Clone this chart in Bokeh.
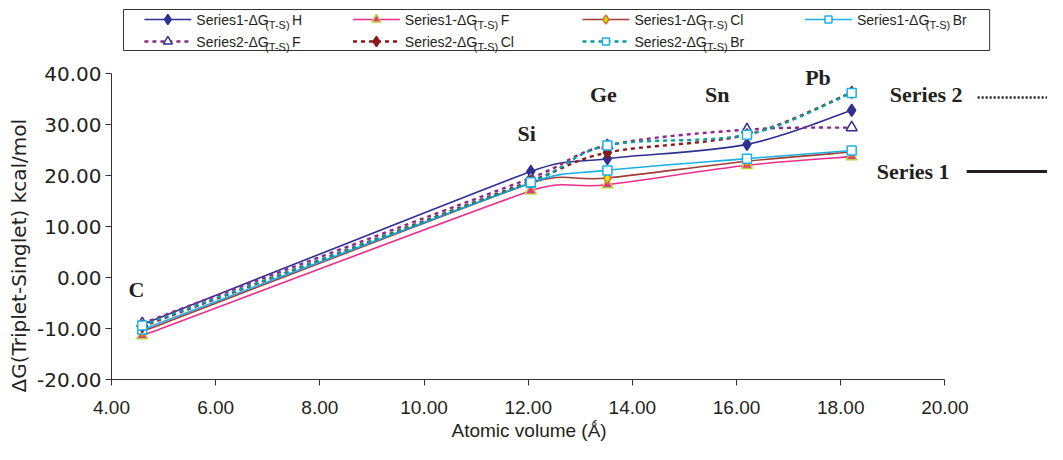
from bokeh.plotting import figure
from bokeh.models import NumeralTickFormatter, FixedTicker, Range1d, Title
from bokeh.core.properties import value
from bokeh.embed import file_html
from bokeh.resources import INLINE
import math

# ---------------- data ----------------
elements = ["C", "Si", "Ge", "Sn", "Pb"]
atomic_volume = [4.59, 12.05, 13.52, 16.20, 18.21]

s1_H = [-9.2, 20.8, 23.3, 26.1, 32.8]
s1_F = [-11.4, 17.0, 18.2, 22.0, 23.7]
s1_Cl = [-10.6, 18.5, 19.5, 22.8, 24.6]
s1_Br = [-10.2, 18.6, 21.0, 23.3, 24.9]
s2_F = [-9.0, 19.5, 25.9, 29.0, 29.4]
s2_Cl = [-9.6, 18.9, 24.5, 28.0, 36.3]
s2_Br = [-9.4, 18.7, 25.9, 28.0, 36.2]

x_ticks = [4, 6, 8, 10, 12, 14, 16, 18, 20]
y_ticks = [-20, -10, 0, 10, 20, 30, 40]

# ---------------- layout helpers (picture pixel -> data) ----------------
XS = 52.2   # px per x unit
YS = 5.1    # px per y unit
OFF = 1     # canvas origin in the picture
def dx(px):
    return 4 + (px - 110) / XS
def dy(py):
    return 40 - (py - 74) / YS

W, H = 1047, 444
LEFT = 110 - OFF
BOTTOM_PAGE = 380
p = figure(width=W, height=H, output_backend="svg", toolbar_location=None,
           x_range=Range1d(4, dx(W + OFF)), y_range=Range1d(-20, dy(OFF)),
           min_border_left=LEFT, min_border_right=0, min_border_top=0,
           min_border_bottom=H - (BOTTOM_PAGE - OFF))
p.outline_line_color = None
p.grid.visible = False
p.background_fill_color = "white"

FONT = "Liberation Sans"
YFONT = "DejaVu Sans"
SERIF = "Liberation Serif"
TXT = "#231f20"

for ax in (p.xaxis[0], p.yaxis[0]):
    ax.major_label_text_color = TXT
    ax.axis_line_color = "#333333"
    ax.major_tick_line_color = "#333333"
    ax.minor_tick_line_color = None
    ax.major_tick_in = 0
    ax.major_tick_out = 6
    ax.formatter = NumeralTickFormatter(format="0.00")

p.xaxis.major_label_text_font = FONT
p.xaxis.major_label_text_font_size = "19px"
p.yaxis.major_label_text_font = YFONT
p.yaxis.major_label_text_font_size = "20px"
p.xaxis.bounds = (4, 20)
p.yaxis.bounds = (-20, 40)
p.xaxis.ticker = FixedTicker(ticks=x_ticks)
p.yaxis.ticker = FixedTicker(ticks=y_ticks)
p.xaxis.major_label_standoff = 15
p.yaxis.major_label_standoff = 4

# ---------------- series ----------------
series = [
    dict(name="Series1", elem="H", y=s1_H, color="#2e3192", dash="solid", marker="diamond",
         fill="#2e3192", mline="#2e3192", size=12),
    dict(name="Series1", elem="F", y=s1_F, color="#ec2d8c", dash="solid", marker="triangle",
         fill="#e8318a", mline="#b8d23a", size=11),
    dict(name="Series1", elem="Cl", y=s1_Cl, color="#a33b36", dash="solid", marker="diamond",
         fill="#f5e400", mline="#d2702a", size=11),
    dict(name="Series1", elem="Br", y=s1_Br, color="#1ab0e8", dash="solid", marker="square",
         fill="white", mline="#1ab0e8", size=9),
    dict(name="Series2", elem="F", y=s2_F, color="#8b2a8e", dash="4 4", marker="triangle",
         fill="white", mline="#2e3192", size=11),
    dict(name="Series2", elem="Cl", y=s2_Cl, color="#8b1a1a", dash="4 4", marker="diamond",
         fill="#8b1a1a", mline="#8b1a1a", size=12),
    dict(name="Series2", elem="Br", y=s2_Br, color="#0a9da0", dash="4 4", marker="square",
         fill="white", mline="#1ab0e8", size=9),
]

def smooth(xs, ys):
    """Excel-style smoothed line: cubic Bezier per segment, tangent (P[i+1]-P[i-1])/6,
    arm capped at half of the shorter neighbouring segment (measured on screen)."""
    n = len(xs)
    X = [v * XS for v in xs]
    Y = [v * YS for v in ys]
    def arm(i):
        xm, ym = (X[i - 1], Y[i - 1]) if i > 0 else (X[i], Y[i])
        xp, yp = (X[i + 1], Y[i + 1]) if i < n - 1 else (X[i], Y[i])
        tx, ty = xp - xm, yp - ym
        tl = math.hypot(tx, ty)
        if tl == 0:
            return 0.0, 0.0
        d_prev = math.hypot(X[i] - xm, Y[i] - ym) if i > 0 else float("inf")
        d_next = math.hypot(xp - X[i], yp - Y[i]) if i < n - 1 else float("inf")
        L = min(tl / 6, d_prev / 2, d_next / 2)
        return tx / tl * L / XS, ty / tl * L / YS
    arms = [arm(i) for i in range(n)]
    out = dict(x0=[], y0=[], x1=[], y1=[], cx0=[], cy0=[], cx1=[], cy1=[])
    for i in range(n - 1):
        out["x0"].append(xs[i]); out["y0"].append(ys[i])
        out["x1"].append(xs[i + 1]); out["y1"].append(ys[i + 1])
        out["cx0"].append(xs[i] + arms[i][0]); out["cy0"].append(ys[i] + arms[i][1])
        out["cx1"].append(xs[i + 1] - arms[i + 1][0]); out["cy1"].append(ys[i + 1] - arms[i + 1][1])
    return out

for s in series:
    lw = 1.6 if s["dash"] == "solid" else 2.4
    p.bezier(line_color=s["color"], line_width=lw, line_dash=s["dash"],
             **smooth(atomic_volume, s["y"]))
for s in series:
    p.scatter(atomic_volume, s["y"], marker=s["marker"], size=s["size"],
              fill_color=s["fill"], line_color=s["mline"], line_width=1.5)

# ---------------- legend (manual, with subscripts) ----------------
p.quad(left=dx(122), right=dx(990), top=dy(10), bottom=dy(51),
       fill_color="white", line_color="#333333", line_width=1)
col_x = [143, 352, 582, 805]
row_y = [20, 42]
for k, s in enumerate(series):
    r = 0 if s["name"] == "Series1" else 1
    c = k if r == 0 else k - 4
    x0, x1 = col_x[c], col_x[c] + 47
    yy = row_y[r]
    lw = 1.6 if s["dash"] == "solid" else 2.4
    p.line([dx(x0), dx(x1)], [dy(yy), dy(yy)], line_color=s["color"], line_width=lw, line_dash=s["dash"])
    p.scatter([dx((x0 + x1) / 2)], [dy(yy)], marker=s["marker"], size=s["size"] - 2,
              fill_color=s["fill"], line_color=s["mline"], line_width=1.5)
    tx = x1 + 5
    p.text([dx(tx)], [dy(yy)], text=[s["name"] + "-ΔG"], text_font=value(FONT),
           text_font_size="14px", text_baseline="middle", text_align="left", text_color=TXT)
    p.text([dx(tx + 69)], [dy(yy + 5)], text=["(T-S)"], text_font=value(FONT),
           text_font_size="11px", text_baseline="middle", text_align="left", text_color=TXT)
    p.text([dx(tx + 96)], [dy(yy)], text=[s["elem"]], text_font=value(FONT),
           text_font_size="14px", text_baseline="middle", text_align="left", text_color=TXT)

# ---------------- element annotations ----------------
elem_label_pos = [(135, 290), (526, 134), (603, 95), (717, 95), (818, 78)]
for name, (px, py) in zip(elements, elem_label_pos):
    p.text([dx(px)], [dy(py)], text=[name], text_font=value(SERIF), text_font_style="bold",
           text_font_size="22px", text_align="center", text_baseline="middle", text_color=TXT)

# Series 1 / Series 2 keys
p.text([dx(890)], [dy(95)], text=["Series 2"], text_font=value(SERIF), text_font_style="bold",
       text_font_size="22px", text_align="left", text_baseline="middle", text_color=TXT)
p.line([dx(978), dx(1063)], [dy(98), dy(98)], line_color=TXT, line_width=2.5, line_dash="2 2")
p.text([dx(877)], [dy(172)], text=["Series 1"], text_font=value(SERIF), text_font_style="bold",
       text_font_size="22px", text_align="left", text_baseline="middle", text_color=TXT)
p.line([dx(967), dx(1053)], [dy(172), dy(172)], line_color=TXT, line_width=3)

# ---------------- axis titles ----------------
xt = Title(text="Atomic volume (Ǻ)", align="left", offset=450 - 110, standoff=2,
           text_font=FONT, text_font_size="19px", text_font_style="normal", text_color=TXT)
p.add_layout(xt, "below")
yt = Title(text="ΔG(Triplet-Singlet) kcal/mol", align="left", offset=BOTTOM_PAGE - 393,
           standoff=8, text_font=YFONT, text_font_size="20px", text_font_style="normal",
           text_color=TXT)
p.add_layout(yt, "left")

open("out.html", "w").write(file_html(p, INLINE))
